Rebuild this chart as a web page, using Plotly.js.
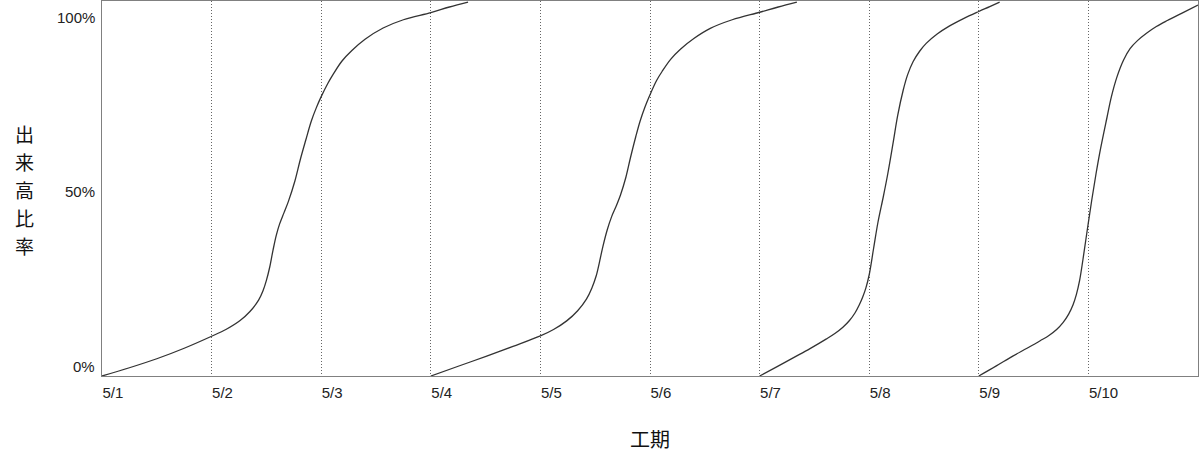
<!DOCTYPE html>
<html>
<head>
<meta charset="utf-8">
<script src="https://cdn.plot.ly/plotly-3.0.1.min.js"></script>
<style>
  body { margin: 0; background: #fff; }
  #chart { width: 1200px; height: 459px; }
</style>
</head>
<body>
<div id="chart"></div>
<script>
// days since 5/1, and cumulative share of volume
var tickDays = [0, 1, 2, 3, 4, 5, 6, 7, 8, 9];
var tickLabels = ['5/1', '5/2', '5/3', '5/4', '5/5', '5/6', '5/7', '5/8', '5/9', '5/10'];

var task1X = [0, 0.25, 0.5, 0.75, 1.0, 1.13, 1.26, 1.35, 1.43, 1.47, 1.50, 1.53, 1.56, 1.59, 1.62, 1.66, 1.70, 1.76, 1.81, 1.86, 1.91, 1.955, 2.0, 2.06, 2.11, 2.19, 2.28, 2.4, 2.565, 2.75, 3.0, 3.17, 3.34];
var task1Y = [0, 0.022, 0.046, 0.074, 0.106, 0.124, 0.148, 0.172, 0.203, 0.228, 0.255, 0.29, 0.335, 0.375, 0.405, 0.435, 0.465, 0.52, 0.578, 0.63, 0.68, 0.715, 0.745, 0.78, 0.805, 0.84, 0.868, 0.898, 0.928, 0.95, 0.969, 0.984, 0.997];

var task2X = [3.0, 3.25, 3.51, 3.75, 4.0, 4.12, 4.24, 4.34, 4.42, 4.47, 4.51, 4.54, 4.57, 4.61, 4.65, 4.69, 4.73, 4.78, 4.82, 4.87, 4.91, 4.955, 5.0, 5.06, 5.11, 5.19, 5.28, 5.4, 5.55, 5.75, 6.0, 6.17, 6.34];
var task2Y = [0, 0.026, 0.053, 0.079, 0.107, 0.124, 0.147, 0.174, 0.205, 0.235, 0.268, 0.305, 0.345, 0.39, 0.425, 0.452, 0.482, 0.53, 0.58, 0.638, 0.68, 0.718, 0.75, 0.788, 0.812, 0.845, 0.872, 0.90, 0.927, 0.95, 0.97, 0.984, 0.997];

var task3X = [6.0, 6.16, 6.31, 6.46, 6.61, 6.69, 6.76, 6.82, 6.87, 6.91, 6.94, 6.97, 7.0, 7.04, 7.08, 7.13, 7.17, 7.22, 7.26, 7.31, 7.35, 7.40, 7.46, 7.52, 7.62, 7.73, 7.86, 8.0, 8.1, 8.19];
var task3Y = [0, 0.025, 0.049, 0.073, 0.099, 0.114, 0.13, 0.148, 0.168, 0.19, 0.21, 0.235, 0.27, 0.34, 0.41, 0.48, 0.54, 0.625, 0.695, 0.762, 0.803, 0.838, 0.866, 0.887, 0.912, 0.933, 0.953, 0.972, 0.985, 0.997];

var task4X = [8.0, 8.16, 8.31, 8.44, 8.56, 8.64, 8.71, 8.77, 8.82, 8.86, 8.89, 8.92, 8.95, 8.99, 9.03, 9.07, 9.11, 9.17, 9.21, 9.26, 9.32, 9.38, 9.45, 9.53, 9.62, 9.72, 9.85, 10.0];
var task4Y = [0, 0.027, 0.053, 0.074, 0.094, 0.108, 0.124, 0.143, 0.165, 0.19, 0.217, 0.255, 0.31, 0.39, 0.468, 0.54, 0.605, 0.69, 0.745, 0.797, 0.842, 0.873, 0.895, 0.914, 0.932, 0.948, 0.967, 0.989];

var yTickVals = [0, 0.5, 1];
var yTickText = ['0%', '50%', '100%'];
var yTitleChars = ['出', '来', '高', '比', '率'];

function curve(x, y) {
  return {
    x: x, y: y,
    type: 'scatter',
    mode: 'lines',
    line: { color: '#333', width: 1.3, shape: 'spline', smoothing: 1 },
    hoverinfo: 'skip',
    showlegend: false
  };
}

var data = [
  curve(task1X, task1Y),
  curve(task2X, task2Y),
  curve(task3X, task3Y),
  curve(task4X, task4Y)
];

var font = { family: 'Liberation Sans, Arial, sans-serif', size: 15, color: '#222' };
var cjk = { family: 'Noto Sans CJK JP, sans-serif', size: 19, color: '#111' };

// y tick labels sit inside the band: top one below the line, bottom one above it
var yAnchors = ['bottom', 'middle', 'top'];
var yShifts = [-1, -3, -6];
var annotations = yTickVals.map(function (v, i) {
  return {
    xref: 'paper', yref: 'y',
    x: 0, y: v,
    xanchor: 'right', yanchor: yAnchors[i],
    xshift: -5, yshift: yShifts[i],
    text: yTickText[i],
    showarrow: false,
    font: font
  };
});

// stacked upright y title, one character per line
yTitleChars.forEach(function (ch, i) {
  annotations.push({
    xref: 'paper', yref: 'paper',
    x: 0, y: 0.5,
    xanchor: 'center', yanchor: 'middle',
    xshift: -78, yshift: 55 - i * 28,
    text: ch,
    showarrow: false,
    font: cjk
  });
});

annotations.push({
  xref: 'paper', yref: 'paper',
  x: 0.5, y: 0,
  xanchor: 'center', yanchor: 'middle',
  yshift: -62,
  text: '工期',
  showarrow: false,
  font: { family: cjk.family, size: 20, color: '#111' }
});

var layout = {
  width: 1200,
  height: 459,
  margin: { l: 102, r: 2, t: 1, b: 83 },
  paper_bgcolor: '#fff',
  plot_bgcolor: '#fff',
  font: font,
  xaxis: {
    range: [0, 10],
    tickvals: tickDays,
    ticktext: tickLabels,
    ticks: '',
    ticklabelposition: 'outside right',
    ticklabelstandoff: 3,
    showgrid: true,
    gridcolor: '#666',
    griddash: '1px,2px',
    gridwidth: 1,
    zeroline: false,
    showline: true,
    linecolor: '#808080',
    linewidth: 1,
    mirror: true
  },
  yaxis: {
    range: [0, 1],
    showticklabels: false,
    ticks: '',
    showgrid: false,
    zeroline: false,
    showline: true,
    linecolor: '#808080',
    linewidth: 1,
    mirror: true
  },
  annotations: annotations,
  hovermode: false
};

Plotly.newPlot('chart', data, layout, { displayModeBar: false, staticPlot: true });
</script>
</body>
</html>
